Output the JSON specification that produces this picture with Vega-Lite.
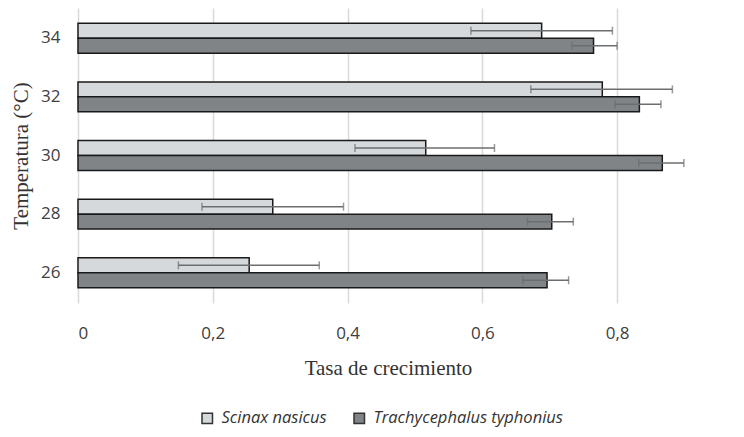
{
  "$schema": "https://vega.github.io/schema/vega-lite/v6.json",
  "width": 620,
  "height": 295,
  "autosize": {"type": "none"},
  "padding": {"left": 78, "top": 8, "right": 46, "bottom": 134},
  "config": {
    "view": {"stroke": null},
    "font": "Open Sans"
  },
  "data": {
    "values": [
      {"temp": 34, "species": "Scinax nasicus", "value": 0.688, "lo": 0.583, "hi": 0.793},
      {"temp": 34, "species": "Trachycephalus typhonius", "value": 0.765, "lo": 0.733, "hi": 0.800},
      {"temp": 32, "species": "Scinax nasicus", "value": 0.778, "lo": 0.672, "hi": 0.882},
      {"temp": 32, "species": "Trachycephalus typhonius", "value": 0.833, "lo": 0.797, "hi": 0.865},
      {"temp": 30, "species": "Scinax nasicus", "value": 0.516, "lo": 0.411, "hi": 0.618},
      {"temp": 30, "species": "Trachycephalus typhonius", "value": 0.867, "lo": 0.832, "hi": 0.899},
      {"temp": 28, "species": "Scinax nasicus", "value": 0.289, "lo": 0.184, "hi": 0.394},
      {"temp": 28, "species": "Trachycephalus typhonius", "value": 0.703, "lo": 0.667, "hi": 0.735},
      {"temp": 26, "species": "Scinax nasicus", "value": 0.254, "lo": 0.149, "hi": 0.358},
      {"temp": 26, "species": "Trachycephalus typhonius", "value": 0.696, "lo": 0.660, "hi": 0.728}
    ]
  },
  "encoding": {
    "y": {
      "field": "temp",
      "type": "ordinal",
      "sort": "descending",
      "title": "Temperatura (°C)",
      "scale": {"paddingInner": 0.49, "paddingOuter": 0.26},
      "axis": {
        "domain": false,
        "ticks": false,
        "labelPadding": 18,
        "labelFont": "Open Sans",
        "labelFontSize": 17,
        "labelColor": "#404040",
        "titleFont": "Liberation Serif",
        "titleFontSize": 21,
        "titleFontWeight": "normal",
        "titleColor": "#333333",
        "titlePadding": 9
      }
    },
    "yOffset": {
      "field": "species",
      "type": "nominal",
      "sort": ["Scinax nasicus", "Trachycephalus typhonius"],
      "scale": {"paddingInner": 0, "paddingOuter": 0}
    }
  },
  "layer": [
    {
      "mark": {"type": "bar", "stroke": "#1a1a1a", "strokeWidth": 1.5},
      "encoding": {
        "x": {
          "field": "value",
          "type": "quantitative",
          "title": "Tasa de crecimiento",
          "scale": {"domain": [0, 0.92], "nice": false, "zero": true},
          "axis": {
            "values": [0, 0.2, 0.4, 0.6, 0.8],
            "labelExpr": "datum.value == 0 ? '0' : replace(format(datum.value, '.1f'), '.', ',')",
            "domain": false,
            "ticks": false,
            "grid": true,
            "gridColor": "#d9d9d9",
            "gridWidth": 1.5,
            "labelPadding": 22,
            "labelFont": "Open Sans",
            "labelFontSize": 17,
            "labelColor": "#404040",
            "titleFont": "Liberation Serif",
            "titleFontSize": 21,
            "titleFontWeight": "normal",
            "titleColor": "#333333",
            "titlePadding": 16
          }
        },
        "fill": {
          "field": "species",
          "type": "nominal",
          "scale": {
            "domain": ["Scinax nasicus", "Trachycephalus typhonius"],
            "range": ["#d6d9db", "#808487"]
          },
          "legend": {
            "title": null,
            "orient": "none",
            "direction": "horizontal",
            "legendX": 121,
            "legendY": 402,
            "symbolType": "square",
            "symbolSize": 110,
            "symbolStrokeColor": "#333333",
            "symbolStrokeWidth": 1.5,
            "labelFont": "Open Sans",
            "labelFontStyle": "italic",
            "labelFontSize": 16.5,
            "labelColor": "#333333",
            "labelLimit": 400,
            "columnPadding": 24,
            "labelOffset": 6
          }
        }
      }
    },
    {
      "mark": {"type": "rule", "color": "#6b6e70", "strokeWidth": 1.5},
      "encoding": {
        "x": {"field": "lo", "type": "quantitative", "title": "Tasa de crecimiento"},
        "x2": {"field": "hi"}
      }
    },
    {
      "mark": {"type": "tick", "color": "#6b6e70", "thickness": 1.5, "size": 8},
      "encoding": {
        "x": {"field": "lo", "type": "quantitative", "title": "Tasa de crecimiento"}
      }
    },
    {
      "mark": {"type": "tick", "color": "#6b6e70", "thickness": 1.5, "size": 8},
      "encoding": {
        "x": {"field": "hi", "type": "quantitative", "title": "Tasa de crecimiento"}
      }
    }
  ]
}
